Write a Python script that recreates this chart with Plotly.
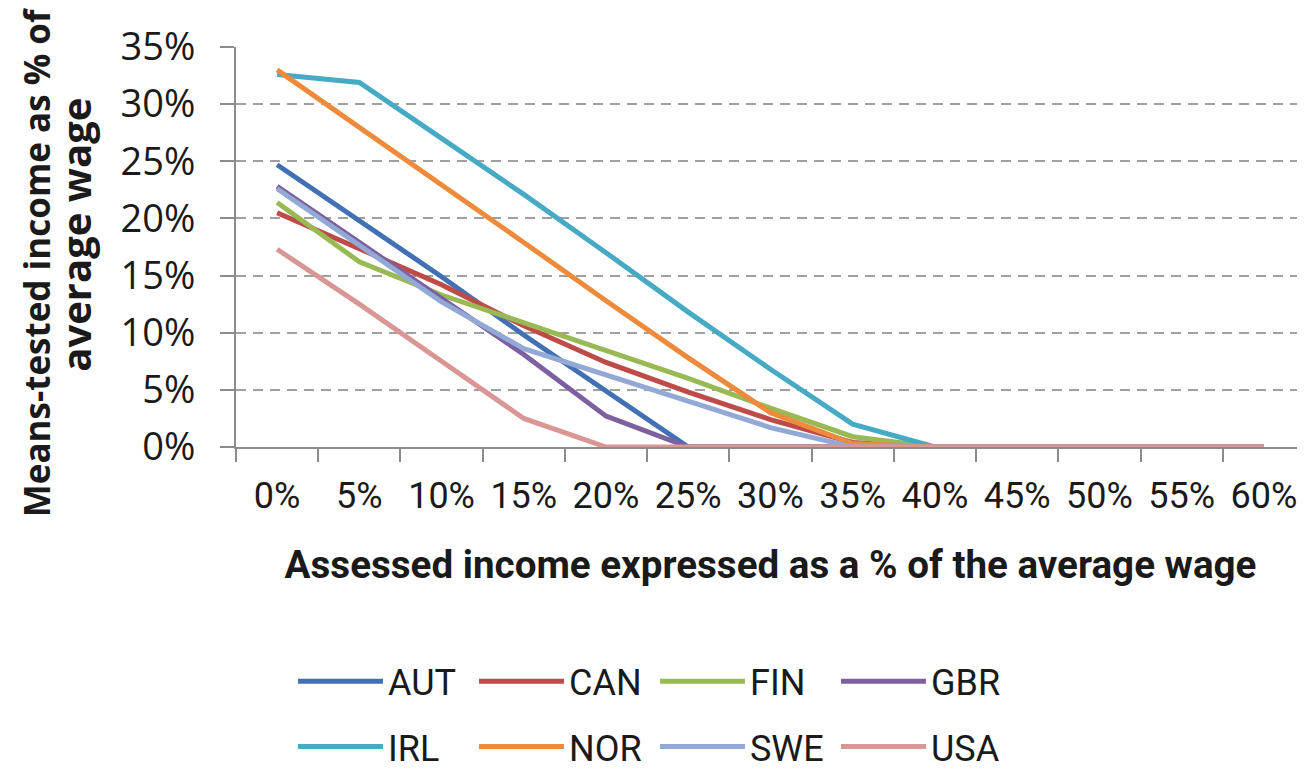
import plotly.graph_objects as go

categories = ["0%", "5%", "10%", "15%", "20%", "25%", "30%", "35%", "40%", "45%", "50%", "55%", "60%"]

AUT = [24.7, 19.8, 14.9, 9.8, 4.9, 0, 0, 0, 0, 0, 0, 0, 0]
CAN = [20.5, 17.4, 14.2, 10.6, 7.4, 4.8, 2.4, 0.4, 0, 0, 0, 0, 0]
FIN = [21.4, 16.2, 13.3, 10.9, 8.5, 6.0, 3.4, 0.9, 0, 0, 0, 0, 0]
GBR = [22.8, 17.9, 12.9, 8.1, 2.7, 0, 0, 0, 0, 0, 0, 0, 0]
IRL = [32.6, 31.9, 27.0, 22.1, 17.0, 11.8, 6.8, 2.0, 0, 0, 0, 0, 0]
NOR = [33.0, 28.0, 22.9, 17.9, 12.8, 7.8, 3.0, 0.3, 0, 0, 0, 0, 0]
SWE = [22.6, 17.6, 12.7, 8.6, 6.3, 4.0, 1.7, 0, 0, 0, 0, 0, 0]
USA = [17.3, 12.5, 7.5, 2.5, 0, 0, 0, 0, 0, 0, 0, 0, 0]

series_names = ["AUT", "CAN", "FIN", "GBR", "IRL", "NOR", "SWE", "USA"]
series_values = [AUT, CAN, FIN, GBR, IRL, NOR, SWE, USA]
colors = ["#4170B5", "#BE4B48", "#98B954", "#7D60A0", "#46AAC5", "#EE8A3C", "#93A9D5", "#D99694"]

y_ticks = [0, 5, 10, 15, 20, 25, 30, 35]
y_tick_labels = ["0%", "5%", "10%", "15%", "20%", "25%", "30%", "35%"]

fig = go.Figure()
for i, (name, vals, col) in enumerate(zip(series_names, series_values, colors)):
    fig.add_trace(go.Scatter(
        x=categories, y=vals, name=name, mode="lines",
        line=dict(color=col, width=5),
        legend="legend" if i < 4 else "legend2",
    ))

legend_common = dict(
    orientation="h", xanchor="left",
    font=dict(family="Roboto, sans-serif", size=36, color="#1a1a1a"),
    entrywidth=81, entrywidthmode="pixels", itemwidth=85,
    bgcolor="rgba(0,0,0,0)", tracegroupgap=0,
)

fig.update_layout(
    width=1305, height=776,
    margin=dict(l=228, r=8, t=39, b=334),
    paper_bgcolor="white", plot_bgcolor="white",
    showlegend=True,
    legend=dict(x=0.0533, y=-0.586, yanchor="middle", **legend_common),
    legend2=dict(x=0.0533, y=-0.824, yanchor="bottom", **legend_common),
    xaxis=dict(
        type="category", tickson="boundaries",
        range=[-0.5, 12.5], automargin=False,
        showline=True, linecolor="#8c8c8c", linewidth=2,
        ticks="outside", ticklen=13, tickwidth=2, tickcolor="#8c8c8c",
        showgrid=False, zeroline=False,
        tickangle=0,
        tickfont=dict(family="Roboto, sans-serif", size=36, color="#1a1a1a"),
        ticklabelstandoff=16,
        layer="below traces",
        title=dict(text="<b>Assessed income expressed as a % of the average wage</b>",
                   font=dict(family="Roboto, sans-serif", size=38.6, color="#1a1a1a"), standoff=35),
    ),
    yaxis=dict(
        range=[0, 35], tickvals=y_ticks, ticktext=y_tick_labels,
        automargin=False,
        showline=True, linecolor="#8c8c8c", linewidth=2,
        ticks="outside", ticklen=14, tickwidth=2, tickcolor="#8c8c8c",
        showgrid=True, gridcolor="#a0a0a0", gridwidth=2, griddash="10px,7px",
        zeroline=False,
        tickfont=dict(family="Open Sans, sans-serif", size=38, color="#1a1a1a"),
        ticklabelstandoff=17,
        layer="below traces",
    ),
    annotations=[
        dict(text="<b>Means-tested income as % of</b>", textangle=-90,
             xref="paper", yref="paper", x=-0.187, y=0.462,
             xanchor="center", yanchor="middle", showarrow=False,
             font=dict(family="Open Sans, sans-serif", size=35, color="#1a1a1a")),
        dict(text="<b>average wage</b>", textangle=-90,
             xref="paper", yref="paper", x=-0.1496, y=0.531,
             xanchor="center", yanchor="middle", showarrow=False,
             font=dict(family="Open Sans, sans-serif", size=40, color="#1a1a1a")),
    ],
)

fig.write_html("out.html")
